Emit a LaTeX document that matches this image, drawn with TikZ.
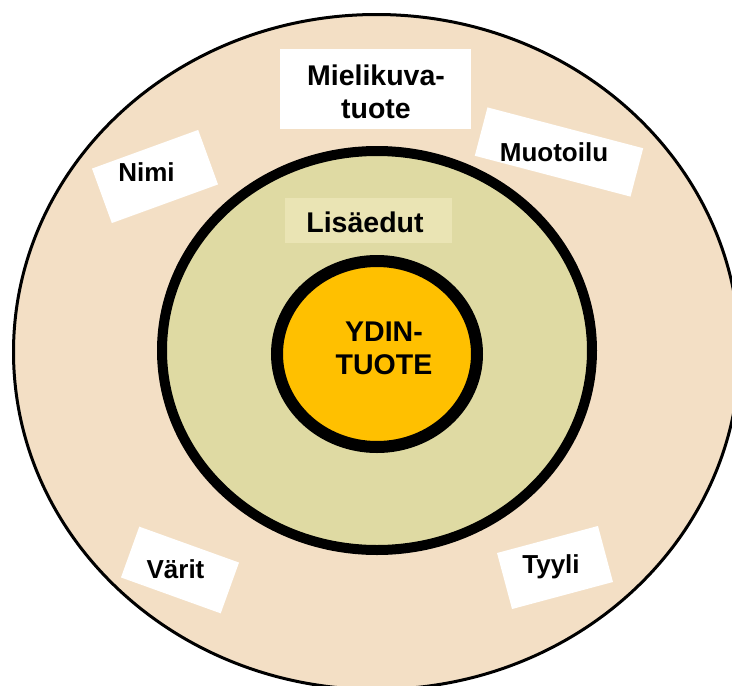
\documentclass[tikz,border=0pt]{standalone}
\usepackage{fontspec}
\setmainfont{Liberation Sans}
\definecolor{outerring}{HTML}{F3DFC5}
\definecolor{middlering}{HTML}{DFDAA3}
\definecolor{extrabox}{HTML}{EAE4B4}
\definecolor{coregold}{HTML}{FFC000}
\tikzset{
  x=1pt, y=1pt,
  labelbox/.style={fill=white, draw=none, inner sep=0pt},
  bigtext/.style={font=\bfseries\fontsize{28.5}{33}\selectfont, inner sep=0pt, align=center},
  smalltext/.style={font=\bfseries\fontsize{26}{30}\selectfont, inner sep=0pt, anchor=base},
}
\begin{document}
\begin{tikzpicture}
\useasboundingbox (0,0) rectangle (732,-686);
\clip (0,0) rectangle (732,-686);
% three nested rings
\filldraw[fill=outerring, draw=black, line width=3pt] (376.5,-352) ellipse [x radius=363, y radius=337.5];
\filldraw[fill=middlering, draw=black, line width=10pt] (377,-350.5) ellipse [x radius=215, y radius=199.5];
\node[fill=extrabox, minimum width=167, minimum height=45, inner sep=0pt] (extrabg) at (368.5,-220.5) {};
\node[smalltext, font=\bfseries\fontsize{28.5}{33}\selectfont] (extra) at (365,-232) {Lisäedut};
\filldraw[fill=coregold, draw=black, line width=12pt] (377,-354) ellipse [x radius=100, y radius=93];
\node[bigtext] (core) at (384,-348.5) {YDIN-\\TUOTE};
% image product
\node[labelbox, minimum width=191, minimum height=80] (imagebox) at (375.5,-89) {};
\node[bigtext] (image) at (376,-92) {Mielikuva-\\tuote};
% tilted label cards
\node[labelbox, minimum width=113, minimum height=58, rotate=20] (namebox) at (155,-176.5) {};
\node[smalltext] (name) at (146.5,-181.7) {Nimi};
\node[labelbox, minimum width=161, minimum height=50, rotate=-14.7] (designbox) at (559,-152) {};
\node[smalltext] (design) at (554,-161) {Muotoilu};
\node[labelbox, minimum width=106, minimum height=54, rotate=-19.8] (colourbox) at (180,-570) {};
\node[smalltext] (colour) at (175.5,-578) {Värit};
\node[labelbox, minimum width=104.5, minimum height=58, rotate=15] (stylebox) at (555,-567.5) {};
\node[smalltext] (style) at (551,-573) {Tyyli};
\end{tikzpicture}
\end{document}
